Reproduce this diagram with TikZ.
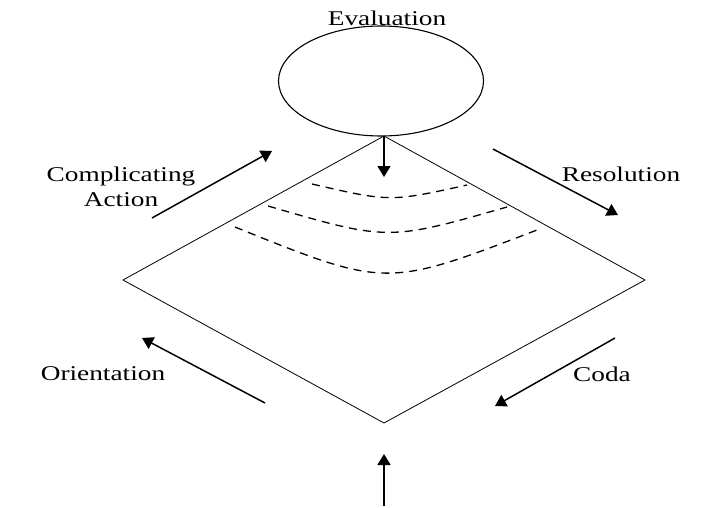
\documentclass[tikz,border=0pt]{standalone}
\usepackage{fontspec}
\setmainfont{Liberation Serif}
\usetikzlibrary{
  shapes.geometric
  , calc
  , arrows.meta
}

\tikzset{
  lbl/.style={font=\fontsize{21}{25}\selectfont, xscale=1.3, align=center, inner sep=0pt},
  edge/.style={line width=0.8pt},
  flow/.style={line width=1.5pt, -{Triangle[length=11pt,width=13pt]}},
  wave/.style={line width=1.3pt, dash pattern=on 8pt off 6pt},
}

\begin{document}
\begin{tikzpicture}[x=1pt, y=-1pt]
      \useasboundingbox (0,0) rectangle (704,508);

      % evaluation bubble
      \node [ellipse, draw=black, line width=1.1pt,
        minimum width=205pt, minimum height=110pt,
        inner sep=0pt] (eval) at (381,81) {};
      \node [lbl] (evaltxt) at (387,18) {Evaluation};

      % the narrative diamond
      \coordinate (top) at (384,136);
      \coordinate (left) at (123,280);
      \coordinate (right) at (645,280);
      \coordinate (bottom) at (384,423);
      \draw [edge] (top) -- (right) -- (bottom) -- (left) -- cycle;

      % arrow from evaluation into the diamond
      \coordinate (evaltip) at (384,177);
      \draw [flow] (top) -- (evaltip);

      % dashed waves
      \draw [wave] (312,184) .. controls (390,202) .. (467,185);
      \draw [wave] (268,206) .. controls (388,241) .. (507,207);
      \draw [wave] (235,227) .. controls (386,288) .. (537,230);

      % side arrows
      \coordinate (ca-s) at (152,218);
      \coordinate (ca-e) at (272,151);
      \draw [flow] (ca-s) -- (ca-e);
      \node [lbl] (catxt) at (121,187) {Complicating\\Action};

      \coordinate (res-s) at (493,149);
      \coordinate (res-e) at (618,215);
      \draw [flow] (res-s) -- (res-e);
      \node [lbl] (restxt) at (621,174) {Resolution};

      \coordinate (or-s) at (265,403);
      \coordinate (or-e) at (142,338);
      \draw [flow] (or-s) -- (or-e);
      \node [lbl] (ortxt) at (103,374) {Orientation};

      \coordinate (co-s) at (615,338);
      \coordinate (co-e) at (495,406);
      \draw [flow] (co-s) -- (co-e);
      \node [lbl] (cotxt) at (602,374) {Coda};

      % arrow into the bottom
      \coordinate (in-s) at (384,506);
      \coordinate (in-e) at (384,454);
      \draw [flow] (in-s) -- (in-e);
    \end{tikzpicture}
\end{document}
